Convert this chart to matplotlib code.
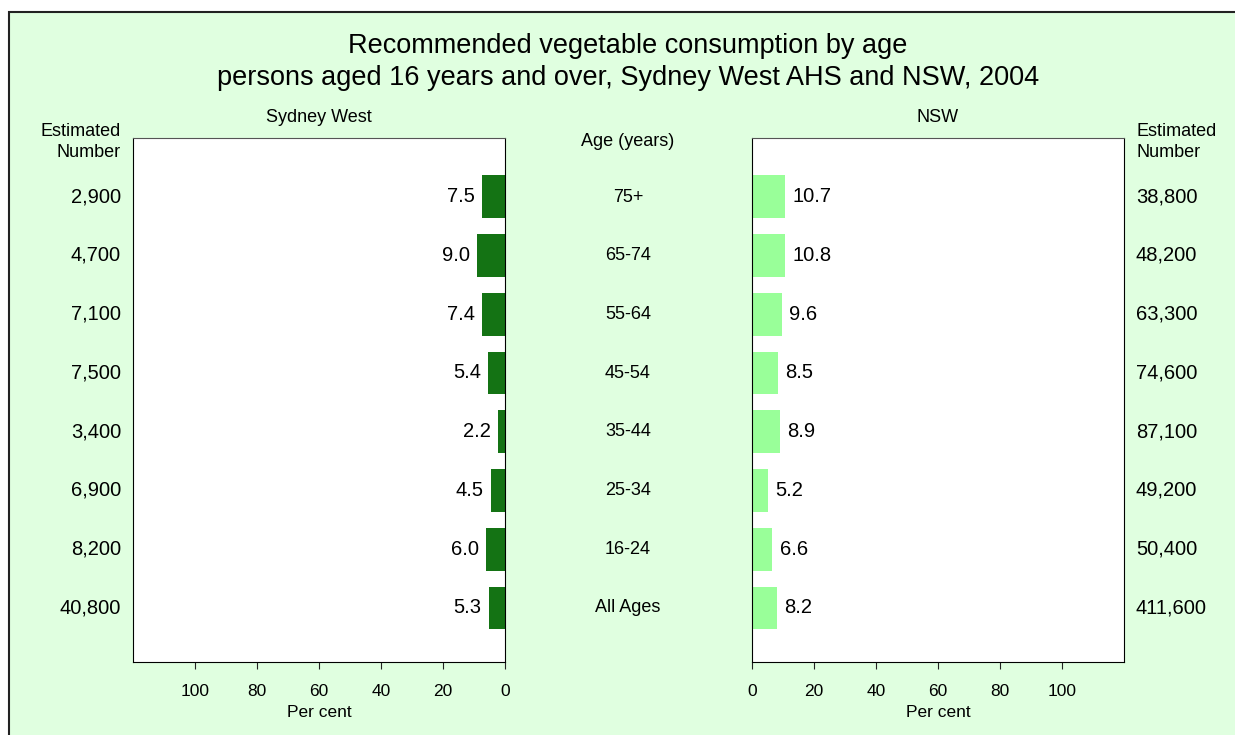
import matplotlib.pyplot as plt
from matplotlib.patches import Rectangle

plt.rcParams['font.family'] = ['Liberation Sans', 'DejaVu Sans']

ages = ['75+', '65-74', '55-64', '45-54', '35-44', '25-34', '16-24', 'All Ages']
sw_pct = [7.5, 9.0, 7.4, 5.4, 2.2, 4.5, 6.0, 5.3]
nsw_pct = [10.7, 10.8, 9.6, 8.5, 8.9, 5.2, 6.6, 8.2]
sw_num = ['2,900', '4,700', '7,100', '7,500', '3,400', '6,900', '8,200', '40,800']
nsw_num = ['38,800', '48,200', '63,300', '74,600', '87,100', '49,200', '50,400', '411,600']
ticks = [0, 20, 40, 60, 80, 100]

bg = '#E0FFE0'
W, H = 1235, 735
fig = plt.figure(figsize=(W / 100, H / 100), dpi=100, facecolor='white')
# green panel with a dark frame running off the right/bottom edges
fig.patches.append(Rectangle((9 / W, -0.01), 1.02 - 9 / W, 1 - 12 / H + 0.01,
                             transform=fig.transFigure, facecolor=bg,
                             edgecolor='#222222', linewidth=1.5, zorder=-10))

def ax_box(x0, y0, x1, y1):
    return [x0 / W, 1 - y1 / H, (x1 - x0) / W, (y1 - y0) / H]

axL = fig.add_axes(ax_box(133, 138, 505, 662))
axR = fig.add_axes(ax_box(752, 138, 1124, 662))
ypos = list(range(len(ages)))

for ax, vals, col in [(axL, sw_pct, '#147314'), (axR, nsw_pct, '#99FF99')]:
    ax.barh(ypos, vals, height=0.73, color=col, edgecolor='none')
    ax.set_xlim(0, 120)
    ax.set_ylim(7.92, -1.0)
    ax.set_yticks([])
    ax.set_xticks(ticks)
    ax.tick_params(axis='x', labelsize=12.5, length=5, pad=11, color='#222222')
    ax.spines['top'].set_color('#555555')
    ax.set_xlabel('Per cent', fontsize=12.5, labelpad=0)
    ax.xaxis.set_label_coords(ax.transAxes.inverted().transform(
        ax.transData.transform((60, 0)))[0], -0.082)

axL.invert_xaxis()

for i in ypos:
    axL.text(sw_pct[i] + 2.3, i, f'{sw_pct[i]:.1f}', ha='right', va='center', fontsize=14.5)
    axR.text(nsw_pct[i] + 2.3, i, f'{nsw_pct[i]:.1f}', ha='left', va='center', fontsize=14.5)
    axL.text(-0.032, i, sw_num[i], transform=axL.get_yaxis_transform(),
             ha='right', va='center', fontsize=14.5)
    axR.text(1.032, i, nsw_num[i], transform=axR.get_yaxis_transform(),
             ha='left', va='center', fontsize=14.5)
    fig.text(628 / W, 1 - (197 + i * 58.7) / H, ages[i], ha='center', va='center', fontsize=13)

fig.text(628 / W, 1 - 141 / H, 'Age (years)', ha='center', va='center', fontsize=13)
fig.text(319 / W, 1 - 118 / H, 'Sydney West', ha='center', va='center', fontsize=13)
fig.text(938 / W, 1 - 118 / H, 'NSW', ha='center', va='center', fontsize=13)
fig.text(121 / W, 1 - 142 / H, 'Estimated\nNumber', ha='right', va='center',
         fontsize=13, linespacing=1.3)
fig.text(1136 / W, 1 - 142 / H, 'Estimated\nNumber', ha='left', va='center',
         fontsize=13, linespacing=1.3)
fig.text(628 / W, 1 - 62 / H,
         'Recommended vegetable consumption by age\n'
         'persons aged 16 years and over, Sydney West AHS and NSW, 2004',
         ha='center', va='center', fontsize=19.5, linespacing=1.32)

fig.savefig('out.png', dpi=100, facecolor='white')
